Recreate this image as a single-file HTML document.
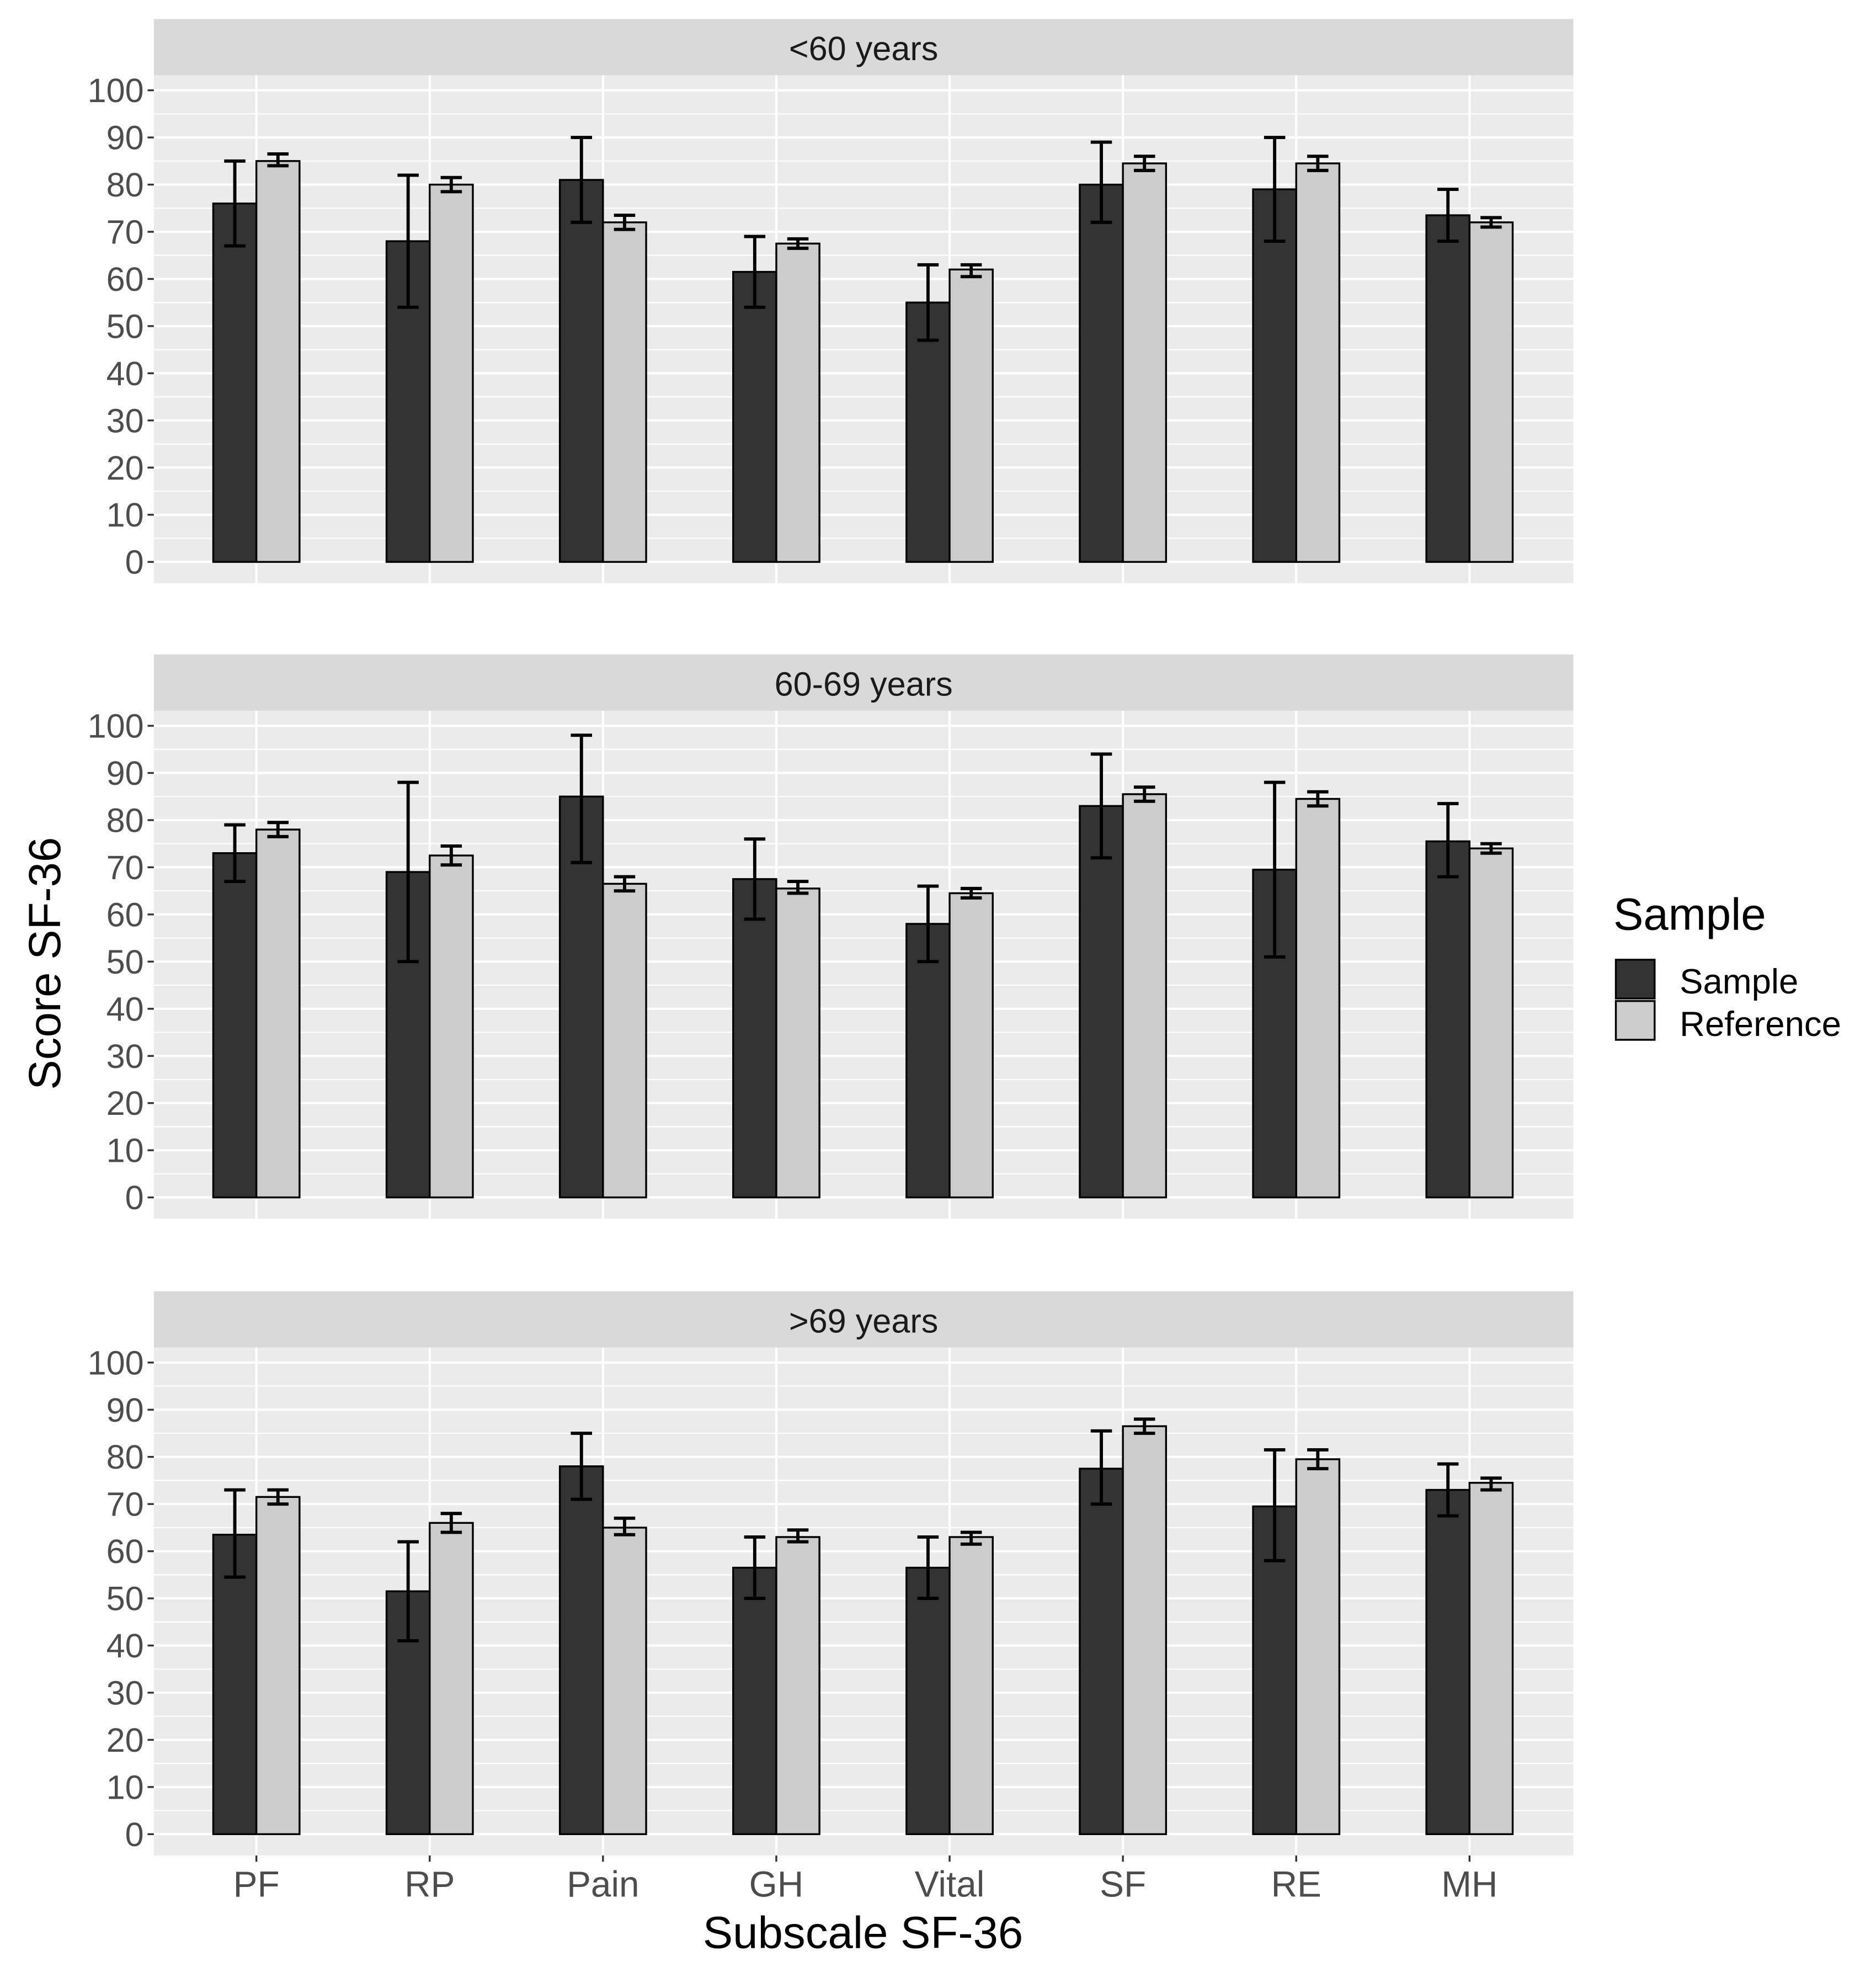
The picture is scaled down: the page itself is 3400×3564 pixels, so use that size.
<!DOCTYPE html>
<html><head><meta charset="utf-8"><style>
html,body{margin:0;padding:0;background:#fff;}
svg{display:block;font-family:"Liberation Sans",sans-serif;}
</style></head><body>
<svg id="chart" width="3400" height="3564" viewBox="0 0 1500 1572" xmlns="http://www.w3.org/2000/svg">
<rect width="1500" height="1572" fill="#fff"/>
<g id="panels"></g>
<text x="48" y="770" font-size="36" text-anchor="middle" transform="rotate(-90 48 770)">Score SF-36</text>
<text x="690" y="1557" font-size="36" text-anchor="middle">Subscale SF-36</text>
<g>
<text x="1290" y="743" font-size="36">Sample</text>
<rect x="1292" y="767" width="31" height="31" fill="#333" stroke="#000" stroke-width="1.5"/>
<rect x="1292" y="800" width="31" height="31" fill="#ccc" stroke="#000" stroke-width="1.5"/>
<text x="1343" y="794" font-size="28">Sample</text>
<text x="1343" y="828" font-size="28">Reference</text>
</g>
</svg>
<script>
const categories=["PF","RP","Pain","GH","Vital","SF","RE","MH"];
const panelTitles=["<60 years","60-69 years",">69 years"];
const yTicks=[0,10,20,30,40,50,60,70,80,90,100];
const sampleMean=[[76,68,81,61.5,55,80,79,73.5],[73,69,85,67.5,58,83,69.5,75.5],[63.5,51.5,78,56.5,56.5,77.5,69.5,73]];
const sampleLow=[[67,54,72,54,47,72,68,68],[67,50,71,59,50,72,51,68],[54.5,41,71,50,50,70,58,67.5]];
const sampleHigh=[[85,82,90,69,63,89,90,79],[79,88,98,76,66,94,88,83.5],[73,62,85,63,63,85.5,81.5,78.5]];
const refMean=[[85,80,72,67.5,62,84.5,84.5,72],[78,72.5,66.5,65.5,64.5,85.5,84.5,74],[71.5,66,65,63,63,86.5,79.5,74.5]];
const refLow=[[84,78.5,70.5,66.5,60.5,83,83,71],[76.5,70.5,65,64.5,63.5,84,83,73],[70,64,63.5,62,61.5,85,77.5,73]];
const refHigh=[[86.5,81.5,73.5,68.5,63,86,86,73],[79.5,74.5,68,67,65.5,87,86,75],[73,68,67,64.5,64,88,81.5,75.5]];

const NS="http://www.w3.org/2000/svg";
const root=document.getElementById("panels");
function mk(tag,attrs,parent){const e=document.createElementNS(NS,tag);for(const k in attrs)e.setAttribute(k,attrs[k]);parent.appendChild(e);return e;}
const px0=123,px1=1258,stripH=45;
const panelTops=[15,523,1032];
function xPos(i){return 205+i*138.57;}
const bw=34.5;
panelTops.forEach((top,p)=>{
  const g=mk("g",{},root);
  
  
  const strip=mk("rect",{x:px0,y:top,width:px1-px0,height:stripH,fill:"#d9d9d9"},g);
  
  
  const st=mk("text",{x:(px0+px1)/2,y:top+33,"font-size":27,"text-anchor":"middle",fill:"#1a1a1a"},g);
  st.textContent=panelTitles[p];
  
  
  const ptop=top+stripH, pbot=top+451;
  const y0=top+434, y100=top+57;
  const y=v=>y0-(y0-y100)*v/100;
  const bg=mk("rect",{x:px0,y:ptop,width:px1-px0,height:pbot-ptop,fill:"#ebebeb"},g);
  
  
  for(let v=-5;v<=105;v+=5){const yy=y(v);if(yy<ptop||yy>pbot)continue;
    mk("line",{x1:px0,x2:px1,y1:yy,y2:yy,stroke:"#fff","stroke-width":v%10===0?1.8:0.9},g);}
  categories.forEach((c,i)=>mk("line",{x1:xPos(i),x2:xPos(i),y1:ptop,y2:pbot,stroke:"#fff","stroke-width":1.8},g));
  yTicks.forEach(v=>{
    mk("line",{x1:px0-5,x2:px0,y1:y(v),y2:y(v),stroke:"#333","stroke-width":1.5},g);
    const t=mk("text",{x:px0-8,y:y(v)+9.5,"font-size":27,"text-anchor":"end",fill:"#4d4d4d"},g);
    t.textContent=v;
    
    
  });
  categories.forEach((c,i)=>{
    const xc=xPos(i);
    const b1=mk("rect",{x:xc-bw,y:y(sampleMean[p][i]),width:bw,height:y0-y(sampleMean[p][i]),fill:"#333",stroke:"#000","stroke-width":1.5},g);
    
    
    const b2=mk("rect",{x:xc,y:y(refMean[p][i]),width:bw,height:y0-y(refMean[p][i]),fill:"#ccc",stroke:"#000","stroke-width":1.5},g);
    
    
    [[xc-bw/2,sampleLow[p][i],sampleHigh[p][i],'sample'],[xc+bw/2,refLow[p][i],refHigh[p][i],'reference']].forEach(([cx,lo,hi,n])=>{
      const eg=mk("g",{stroke:"#000","stroke-width":2.6},g);
      
      
      mk("line",{x1:cx,x2:cx,y1:y(lo),y2:y(hi)},eg);
      mk("line",{x1:cx-8.5,x2:cx+8.5,y1:y(lo),y2:y(lo)},eg);
      mk("line",{x1:cx-8.5,x2:cx+8.5,y1:y(hi),y2:y(hi)},eg);
    });
    if(p===2){
      mk("line",{x1:xc,x2:xc,y1:pbot,y2:pbot+5,stroke:"#333","stroke-width":1.5},g);
      const t=mk("text",{x:xc,y:pbot+33,"font-size":29,"text-anchor":"middle",fill:"#4d4d4d"},g);
      t.textContent=c;
      
      
    }
  });
});
</script>
</body></html>
